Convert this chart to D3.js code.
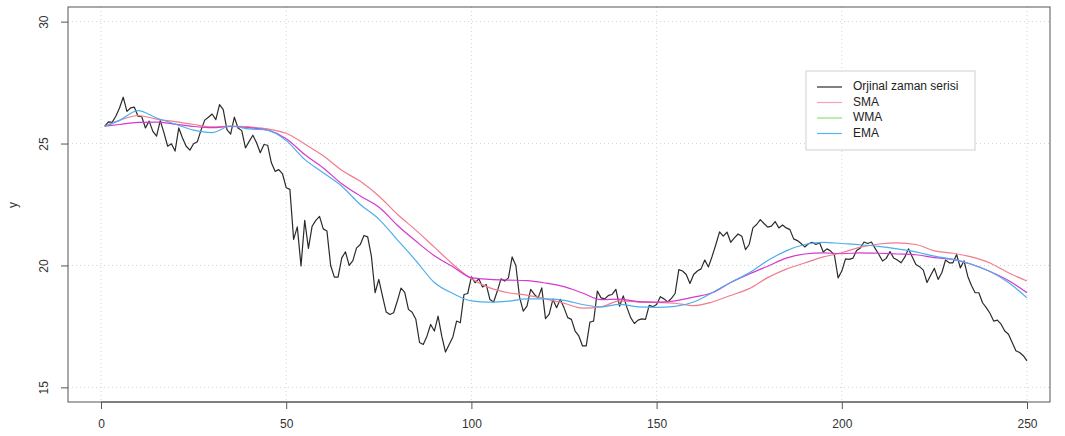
<!DOCTYPE html>
<html>
<head>
<meta charset="utf-8">
<script src="https://cdn.jsdelivr.net/npm/d3@7"></script>
<style>
  html, body { margin: 0; padding: 0; background: #fff; }
  svg text { font-family: "Liberation Sans", Arial, sans-serif; }
</style>
</head>
<body>
<svg id="chart" width="1065" height="436"></svg>
<script>
// ---- data ----
const original = [
25.71,25.89,25.87,26.12,26.46,26.9,26.32,26.46,26.49,26.12,
26.1,25.64,25.92,25.5,25.3,25.94,25.44,24.89,24.99,24.69,
25.64,25.23,24.89,24.73,24.99,25.07,25.55,25.96,26.08,26.21,
25.98,26.6,26.39,25.57,25.39,26.08,25.64,25.53,24.82,25.09,
25.34,25.03,24.62,24.96,24.93,24.21,23.86,23.93,23.76,23.19,
23.12,21.07,21.58,19.98,21.85,20.7,21.61,21.85,22.01,21.5,
21.41,20.0,19.52,19.52,20.31,20.56,20.0,20.2,20.72,20.86,
21.23,21.17,20.38,18.88,19.43,18.74,18.09,17.99,18.06,18.54,
19.07,18.9,18.2,18.08,17.79,16.84,16.76,17.1,17.58,17.31,
17.92,17.1,16.45,16.76,17.07,17.72,17.65,18.81,18.85,19.53,
19.29,19.45,19.12,19.22,18.6,18.5,18.95,19.45,19.36,19.49,
20.35,20.0,18.7,18.13,18.33,19.02,18.81,18.67,19.08,17.82,
18.0,18.61,18.27,18.61,18.27,17.86,17.79,17.31,17.11,16.7,
16.7,17.68,17.72,18.95,18.67,18.63,18.77,18.81,19.02,18.33,
18.75,18.27,17.86,17.62,17.76,17.81,17.79,18.36,18.31,18.4,
18.72,18.63,18.5,18.65,18.85,19.83,19.77,19.63,19.26,19.63,
19.77,19.86,20.22,19.94,20.38,20.86,21.38,21.2,21.37,20.95,
21.13,21.29,21.2,20.65,20.86,21.54,21.68,21.88,21.72,21.57,
21.61,21.8,21.54,21.66,21.54,21.47,21.09,21.02,20.9,20.76,
20.89,20.95,20.86,20.93,20.55,20.68,20.59,20.43,19.49,19.77,
20.27,20.25,20.3,20.61,20.72,20.96,20.9,20.96,20.7,20.45,
20.18,20.29,20.57,20.31,20.22,20.11,20.34,20.68,20.36,20.04,
19.95,19.81,19.3,19.6,19.88,19.43,19.7,20.22,20.11,20.11,
20.45,19.9,20.19,19.56,19.18,18.88,18.88,18.47,18.27,18.04,
17.72,17.76,17.59,17.31,17.18,16.84,16.5,16.43,16.3,16.09
];
const smoothX = [1,5,10,15,20,25,30,35,40,45,50,55,60,65,70,75,80,85,90,95,100,
  105,110,115,120,125,130,135,140,145,150,155,160,165,170,175,180,185,190,195,200,
  205,210,215,220,225,230,235,240,245,250];
const sma = [25.71,25.95,26.15,26.0,25.9,25.78,25.68,25.72,25.68,25.6,25.42,24.98,24.5,23.9,23.45,22.85,22.1,21.45,20.75,20.05,19.45,
  19.08,18.88,18.78,18.63,18.45,18.25,18.3,18.55,18.5,18.48,18.45,18.35,18.5,18.77,19.05,19.5,19.85,20.1,20.35,20.52,
  20.75,20.88,20.93,20.86,20.6,20.5,20.35,20.1,19.7,19.36];
const wma = [25.71,25.78,25.87,25.88,25.8,25.7,25.65,25.7,25.65,25.55,25.2,24.55,24.0,23.35,22.85,22.4,21.65,21.0,20.4,19.95,19.5,
  19.43,19.4,19.38,19.28,19.13,18.87,18.6,18.62,18.52,18.5,18.55,18.7,18.88,19.3,19.65,19.97,20.3,20.47,20.52,20.48,
  20.52,20.5,20.47,20.44,20.32,20.25,20.05,19.75,19.38,18.88];
const ema = [25.71,25.95,26.35,26.05,25.8,25.55,25.45,25.72,25.6,25.55,25.12,24.35,23.8,23.25,22.5,21.9,21.05,20.2,19.3,18.85,18.55,
  18.5,18.54,18.63,18.63,18.57,18.4,18.3,18.4,18.3,18.28,18.32,18.5,18.88,19.3,19.7,20.2,20.6,20.86,20.95,20.9,
  20.85,20.78,20.68,20.56,20.38,20.25,20.05,19.75,19.3,18.67];
const xTicks = [0,50,100,150,200,250];
const yTicks = [15,20,25,30];
const legendLabels = ["Orjinal zaman serisi","SMA","WMA","EMA"];
const yTitle = "y";

// ---- layout ----
const box = {left: 68, right: 1050, top: 7, bottom: 402};
const x = d3.scaleLinear().domain([0, 250]).range([101, 1027]);
const y = d3.scaleLinear().domain([14.4, 30.6]).range([box.bottom, box.top]);

const svg = d3.select("#chart");

// grid
const grid = svg.append("g").attr("stroke", "#d3d3d3").attr("stroke-dasharray", "1,3").attr("stroke-width", 1);
xTicks.forEach(t => grid.append("line").attr("x1", x(t)).attr("x2", x(t)).attr("y1", box.top).attr("y2", box.bottom));
yTicks.forEach(t => grid.append("line").attr("x1", box.left).attr("x2", box.right).attr("y1", y(t)).attr("y2", y(t)));

// lines
const line = d3.line().x(d => x(d[0])).y(d => y(d[1]));
const smoothLine = d3.line().curve(d3.curveMonotoneX).x(d => x(d[0])).y(d => y(d[1]));
const origPts = original.map((v, i) => [i + 1, v]);
const plotG = svg.append("g").attr("fill", "none").attr("stroke-linejoin", "round");
plotG.append("path").datum(origPts).attr("d", line).attr("stroke", "#2b2b2b").attr("stroke-width", 1.2);
plotG.append("path").datum(smoothX.map((t, i) => [t, sma[i]])).attr("d", smoothLine)
  .attr("stroke", "#F07C8E").attr("stroke-width", 1.2);
plotG.append("path").datum(smoothX.map((t, i) => [t, wma[i]])).attr("d", smoothLine)
  .attr("stroke", "#D43ACD").attr("stroke-width", 1.2);
plotG.append("path").datum(smoothX.map((t, i) => [t, ema[i]])).attr("d", smoothLine)
  .attr("stroke", "#4DAEEE").attr("stroke-width", 1.2);

// box
svg.append("rect").attr("x", box.left).attr("y", box.top).attr("width", box.right - box.left).attr("height", box.bottom - box.top)
  .attr("fill", "none").attr("stroke", "#555").attr("stroke-width", 1);

// x axis
const xAxis = d3.axisBottom(x).tickValues(xTicks).tickSize(7).tickSizeOuter(0).tickPadding(10).tickFormat(d3.format("d"));
const gx = svg.append("g").attr("transform", `translate(0,${box.bottom})`).call(xAxis);
gx.select(".domain").remove();
gx.append("line").attr("x1", x(xTicks[0])).attr("x2", x(xTicks[xTicks.length - 1])).attr("stroke", "#555");
gx.selectAll(".tick line").attr("stroke", "#555");
gx.selectAll("text").attr("font-size", 12).attr("fill", "#333").attr("font-family", "Liberation Sans, Arial, sans-serif");

// y axis
const yAxis = d3.axisLeft(y).tickValues(yTicks).tickSize(7).tickSizeOuter(0).tickFormat(d3.format("d"));
const gy = svg.append("g").attr("transform", `translate(${box.left},0)`).call(yAxis);
gy.select(".domain").remove();
gy.selectAll(".tick line").attr("stroke", "#555");
gy.selectAll("text").attr("font-size", 12).attr("fill", "#333").attr("font-family", "Liberation Sans, Arial, sans-serif")
  .attr("text-anchor", "middle").attr("x", 0).attr("dy", 0)
  .attr("transform", "translate(-23,0) rotate(-90)").attr("dominant-baseline", "middle");

// y title
svg.append("text").attr("transform", "translate(14,205) rotate(-90)").attr("text-anchor", "middle")
  .attr("dominant-baseline", "middle").attr("font-size", 12).attr("fill", "#333").text(yTitle);

// legend
const legendColors = ["#2b2b2b", "#F5A3B3", "#8FE080", "#5BB4F0"];
const lg = svg.append("g");
lg.append("rect").attr("x", 806).attr("y", 71).attr("width", 169).attr("height", 79)
  .attr("fill", "#fff").attr("stroke", "#cfcfcf").attr("stroke-width", 1);
legendLabels.forEach((lab, i) => {
  const yy = 87 + i * 15.5;
  lg.append("line").attr("x1", 817).attr("x2", 842).attr("y1", yy).attr("y2", yy)
    .attr("stroke", legendColors[i]).attr("stroke-width", 1.2);
  lg.append("text").attr("x", 853).attr("y", yy).attr("dominant-baseline", "middle")
    .attr("font-size", 12).attr("fill", "#222").text(lab);
});
</script>
</body>
</html>
